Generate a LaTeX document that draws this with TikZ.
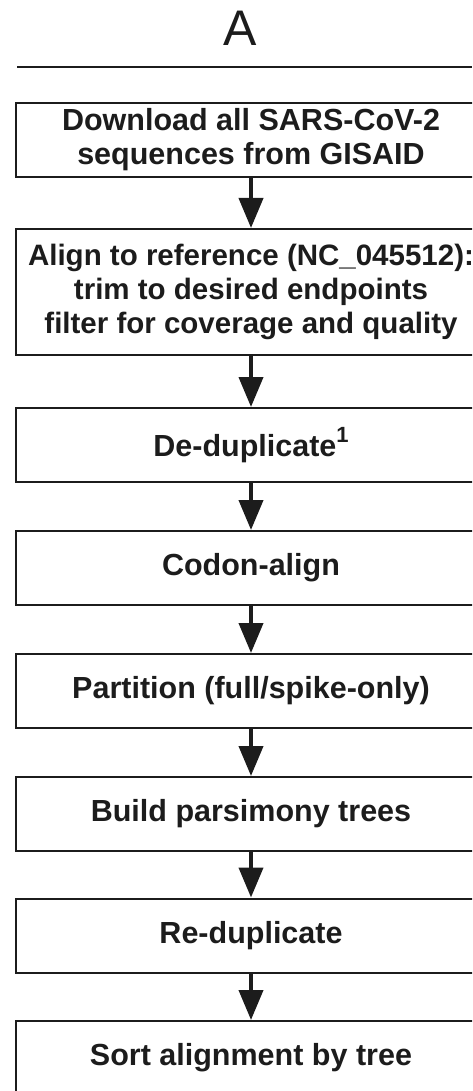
\documentclass[tikz,border=0pt]{standalone}
\usepackage{fontspec}
\setmainfont{Liberation Sans}
\usetikzlibrary{arrows.meta}
\definecolor{ink}{HTML}{1C1C1C}
\begin{document}
\begin{tikzpicture}[x=1pt,y=-1pt,
  stepbox/.style={draw=ink, line width=2pt, minimum width=470pt, minimum height=74pt,
    inner sep=0pt, align=center, text=ink, font=\bfseries\fontsize{30.5}{34}\selectfont},
  flow/.style={draw=ink, line width=4pt, -{Triangle[width=24pt,length=30pt]}}]
\useasboundingbox (0,0) rectangle (472,1091);
\clip (0,0) rectangle (472,1091);
\node[text=ink, font=\fontsize{50}{50}\selectfont] (title) at (240,28) {A};
\coordinate (la) at (17,67);
\coordinate (lb) at (472,67);
\draw[ink, line width=1.5pt] (la) -- (lb);
\node[stepbox] (b1) at (251,140) {Download all SARS-CoV-2\\sequences from GISAID};
\node[stepbox, minimum height=126pt, font=\bfseries\fontsize{29.5}{34}\selectfont] (b2) at (251,292) {Align to reference (NC\_045512):\\trim to desired endpoints\\filter for coverage and quality};
\node[stepbox] (b3) at (251,445) {De-duplicate\raisebox{14pt}{\fontsize{22}{22}\selectfont 1}};
\node[stepbox] (b4) at (251,568) {Codon-align};
\node[stepbox] (b5) at (251,691) {Partition (full/spike-only)};
\node[stepbox] (b6) at (251,814) {Build parsimony trees};
\node[stepbox] (b7) at (251,935.5) {Re-duplicate};
\node[stepbox] (b8) at (251,1058) {Sort alignment by tree};
\foreach \a/\b in {b1/b2,b2/b3,b3/b4,b4/b5,b5/b6,b6/b7,b7/b8}
  \draw[flow] (\a.south) -- (\b.north);
\end{tikzpicture}
\end{document}
